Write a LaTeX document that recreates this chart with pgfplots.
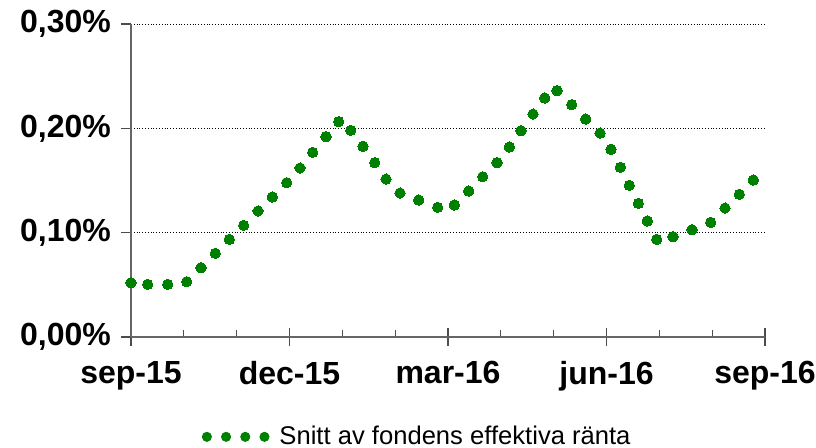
\documentclass[border=0pt]{standalone}
\usepackage{pgfplots}
\pgfplotsset{compat=1.18}
\usepackage{fontspec}
\setmainfont{Liberation Sans}
\definecolor{exgreen}{RGB}{0,128,0}
\pgfplotstableread{
x y
0.000 0.0520
0.316 0.0505
0.695 0.0505
1.054 0.0530
1.325 0.0664
1.596 0.0802
1.861 0.0936
2.133 0.1071
2.404 0.1208
2.675 0.1342
2.947 0.1479
3.199 0.1620
3.439 0.1770
3.691 0.1920
3.931 0.2064
4.159 0.1981
4.391 0.1828
4.613 0.1671
4.827 0.1514
5.092 0.1380
5.446 0.1313
5.805 0.1243
6.120 0.1265
6.392 0.1399
6.657 0.1536
6.928 0.1671
7.161 0.1821
7.382 0.1977
7.609 0.2137
7.831 0.2291
8.064 0.2361
8.342 0.2227
8.607 0.2089
8.878 0.1955
9.086 0.1799
9.262 0.1627
9.432 0.1454
9.603 0.1281
9.773 0.1112
9.951 0.0936
10.259 0.0961
10.619 0.1028
10.973 0.1099
11.243 0.1236
11.514 0.1368
11.779 0.1504
}\ratedata
\begin{document}
\begin{tikzpicture}
\begin{axis}[name=ax,
  scale only axis, width=317pt, height=156.5pt,
  xmin=0, xmax=12, ymin=0, ymax=0.3,
  axis x line*=bottom, axis y line*=left,
  axis line style={-, black!60, line width=0.7pt},
  tick align=center, major tick length=9pt, minor tick length=3.5pt,
  tick style={black!70, line width=0.6pt},
  ytick={0,0.1,0.2,0.3},
  yticklabels={{0,00\%},{0,10\%},{0,20\%},{0,30\%}},
  ytick style={/pgfplots/major tick length=5pt, xshift=-2.5pt},
  yticklabel style={xshift=-2pt},
  ymajorgrids, grid style={black, densely dotted, line width=0.4pt},
  xtick={0,3,6,9,12},
  xticklabels={sep-15,dec-15,mar-16,jun-16,sep-16},
  minor xtick={1,2,4,5,7,8,10,11},
  minor x tick style={yshift=1.75pt},
  xticklabel style={yshift=-4pt},
  ticklabel style={font=\fontsize{16}{18}\selectfont\bfseries},
  legend style={at={(0.453,-0.319)}, anchor=center, draw=none, fill=none,
    font=\fontsize{12.8}{15}\selectfont},
  legend image code/.code={
    \foreach \i in {0,1,2,3} {\fill[exgreen] (\i*9.6pt,0pt) circle (2.3pt);}
  },
]
\addplot[only marks, mark=*, mark size=2.6pt, color=exgreen,
  mark options={fill=exgreen, draw=exgreen, line width=0pt}]
  table[x=x, y=y] {\ratedata};
\addlegendentry{\hspace{3pt}Snitt av fondens effektiva ränta}
\end{axis}
\pgfresetboundingbox
\path[use as bounding box] ([xshift=-65.5pt,yshift=-55.5pt]ax.south west) rectangle ([xshift=25.5pt,yshift=12pt]ax.north east);
\end{tikzpicture}
\end{document}
